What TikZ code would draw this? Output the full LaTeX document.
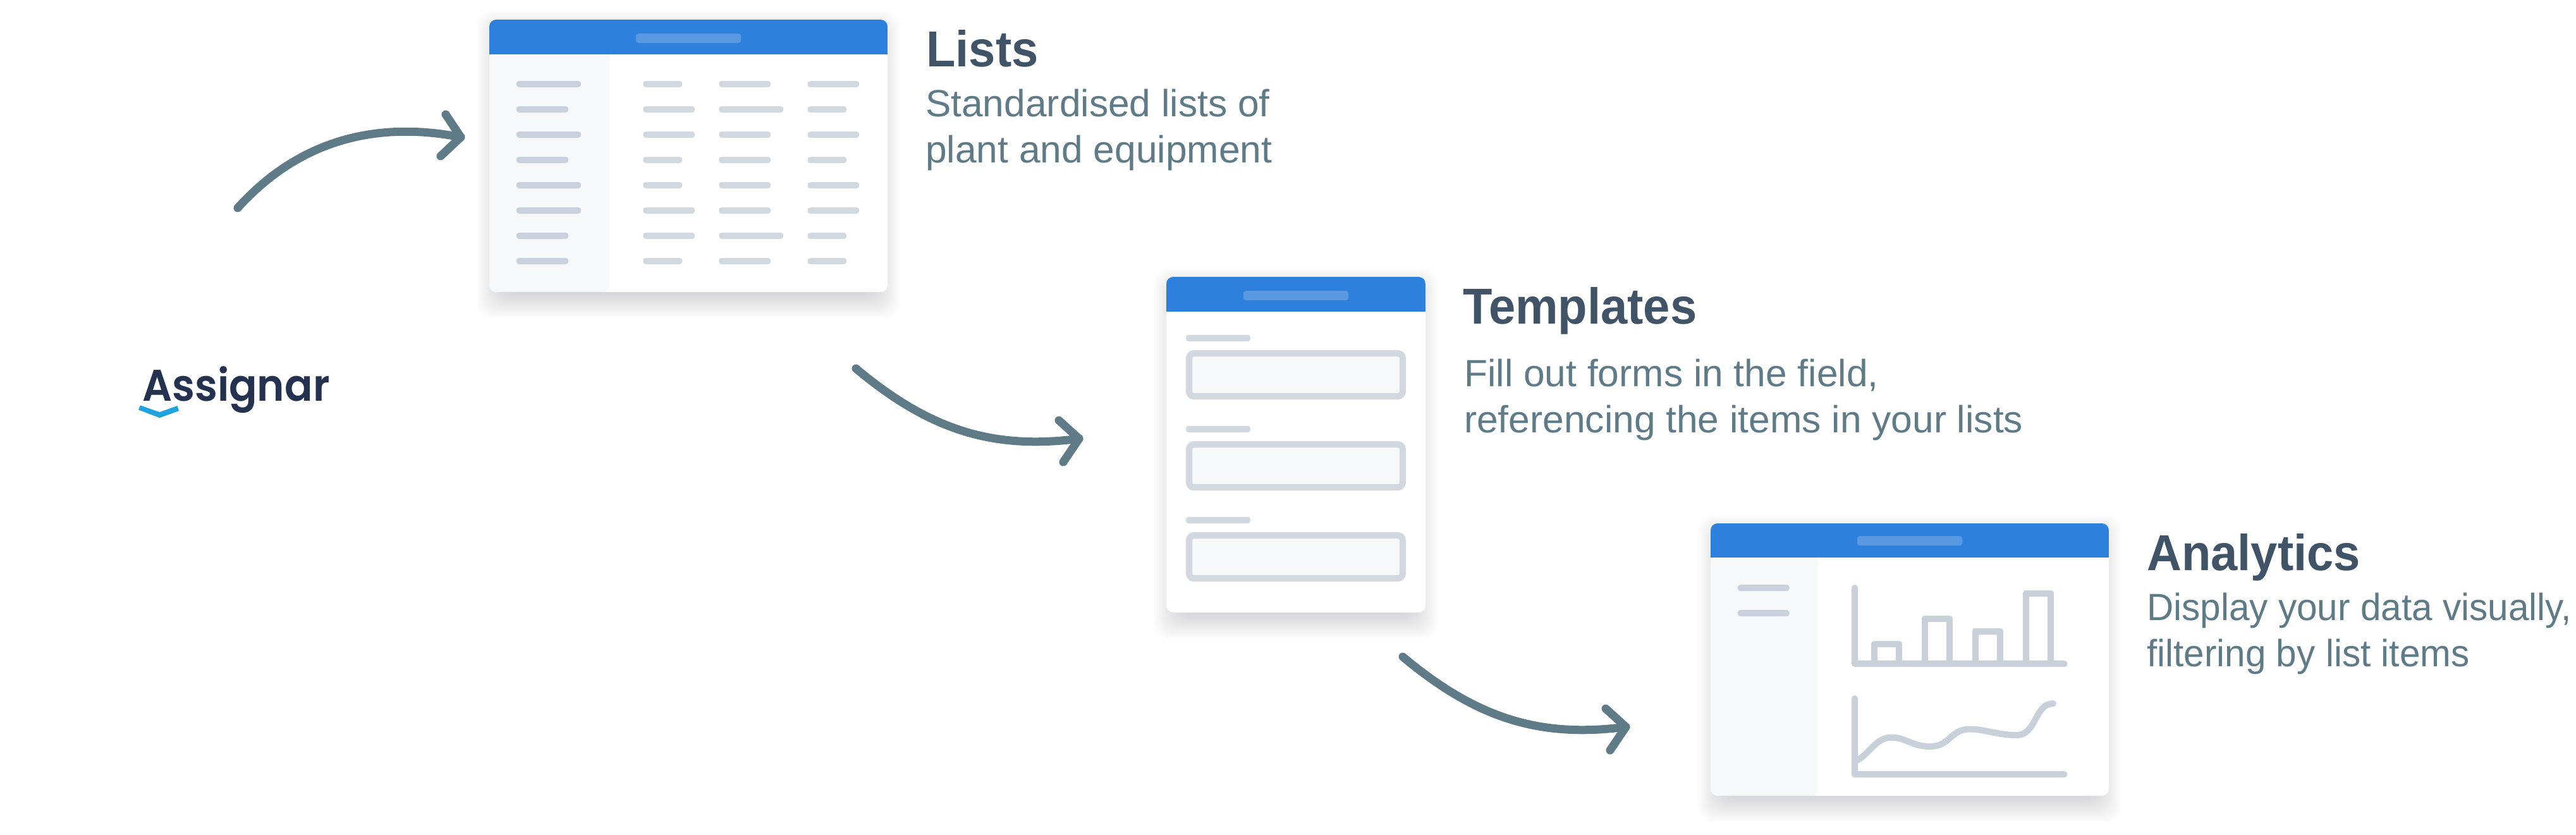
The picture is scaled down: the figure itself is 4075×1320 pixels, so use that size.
\documentclass[tikz,border=0pt]{standalone}
\usepackage{fontspec}
\setmainfont{Liberation Sans}
\newfontfamily\bodyfont{Liberation Sans}[FakeStretch=1.008]
\newfontfamily\bodynarrow{Liberation Sans}[FakeStretch=0.975]
\newfontfamily\headfont{Liberation Sans}[BoldFont=*,UprightFont=* Bold,FakeStretch=0.95]
\newfontfamily\logofont{Poppins}[UprightFont=* SemiBold,FakeStretch=0.94]
\definecolor{hdr}{HTML}{2D81DC}
\definecolor{hdrpill}{HTML}{5899E2}
\definecolor{side}{HTML}{F7F8FA}
\definecolor{barA}{HTML}{C9D1DC}
\definecolor{barB}{HTML}{D1D8E0}
\definecolor{chartc}{HTML}{C8D0DA}
\definecolor{arrowc}{HTML}{607B88}
\definecolor{headc}{HTML}{415367}
\definecolor{shadowc}{HTML}{5A7290}
\definecolor{logoc}{HTML}{25324F}
\definecolor{logob}{HTML}{1EA3E0}
\newcommand{\cardbase}[5]{% x1 y1 x2 y2 headerbottom
  \foreach \s in {-14,-12,...,34}{
    \fill[shadowc,fill opacity=0.011,rounded corners=24pt]
      ({#1+14-\s},{#2+20-\s}) rectangle ({#3-14+\s},{#4+8+\s});
  }
  \fill[white,rounded corners=11pt] (#1,#2) rectangle (#3,#4);
  \begin{scope}
    \clip[rounded corners=11pt] (#1,#2) rectangle (#3,#4);
    \fill[hdr] (#1,#2) rectangle (#3,#5);
  \end{scope}
}
\newcommand{\sidebar}[5]{% x1 top x2 bottom
  \begin{scope}
    \clip[rounded corners=11pt] (#1,#5) rectangle (#3,#4);
    \fill[side] (#1,#2) rectangle (#3,#4);
  \end{scope}
}
\newcommand{\pill}[5]{\fill[#1,rounded corners=4pt] (#2,#3) rectangle (#4,#5);}
\tikzset{
  x=1pt,y=-1pt,
  headtext/.style={anchor=base west,inner sep=0pt,text=headc,font=\headfont\fontsize{80}{90}\selectfont},
  bodytext/.style={anchor=base west,inner sep=0pt,text=arrowc,align=left,font=\bodyfont\fontsize{60}{73}\selectfont},
  arrowline/.style={draw=arrowc,line width=13pt,line cap=round,line join=round},
  chartline/.style={draw=chartc,line width=10pt,line cap=round,line join=round},
  barline/.style={draw=chartc,line width=10pt,line join=round},
  fieldbox/.style={draw=barB,fill=side,line width=10pt,rounded corners=8pt}
}
\begin{document}
\begin{tikzpicture}
\useasboundingbox (0,0) rectangle (4075,1320);
\fill[white] (0,0) rectangle (4075,1320);

% ---- card 1: Lists
\cardbase{774}{31}{1404}{462}{85.5}
\sidebar{774}{85.5}{964}{462}{31}
\pill{hdrpill}{1006}{53}{1172}{68}
\foreach \r/\a/\b/\c/\d in {0/919/1079/1219/1359,1/899/1099/1239/1339,2/919/1099/1219/1359,3/899/1079/1219/1339,4/919/1079/1219/1359,5/919/1099/1219/1359,6/899/1099/1239/1339,7/899/1079/1219/1339}{
  \pill{barA}{817}{128+40*\r}{\a}{138+40*\r}
  \pill{barB}{1017.5}{128+40*\r}{\b}{138+40*\r}
  \pill{barB}{1137.5}{128+40*\r}{\c}{138+40*\r}
  \pill{barB}{1277.5}{128+40*\r}{\d}{138+40*\r}
}

% ---- card 2: Templates
\cardbase{1845}{438}{2255}{969}{492.5}
\pill{hdrpill}{1967}{460}{2133}{475}
\foreach \q in {0,144,288}{
  \pill{barB}{1876}{530+\q}{1978}{540+\q}
  \draw[fieldbox] (1881,{559+\q}) rectangle (2219,{627+\q});
}

% ---- card 3: Analytics
\cardbase{2706}{828}{3336}{1259}{882}
\sidebar{2706}{882}{2875.5}{1259}{828}
\pill{hdrpill}{2938}{848}{3104}{863}
\pill{barA}{2749}{925}{2830.5}{935}
\pill{barA}{2749}{965}{2830.5}{975}
\foreach \xa/\xb/\yt in {2965/3003.5/1018.5,3045/3084/978.5,3124.5/3163.5/998.5,3204.5/3243.5/938.5}{
  \draw[barline] (\xa,1050) -- (\xa,\yt) -- (\xb,\yt) -- (\xb,1050);
}
\draw[chartline] (2934,930) -- (2934,1050) -- (3265.5,1050);
\draw[chartline] (2934,1105) -- (2934,1225) -- (3265.5,1225);
\draw[chartline] (2934,1204) .. controls (2955,1198) and (2965,1166.7) .. (2992,1166.7)
  .. controls (3015,1166.7) and (3025,1181) .. (3053,1181)
  .. controls (3085,1181) and (3085,1153.5) .. (3116,1153.5)
  .. controls (3140,1153.5) and (3160,1163) .. (3190,1163)
  .. controls (3222,1163) and (3218,1113) .. (3248,1113);

% ---- arrows
\coordinate (a1s) at (376,329);
\coordinate (a1t) at (729,217);
\coordinate (a1u) at (705,181);
\coordinate (a1d) at (697,247);
\draw[arrowline] (a1s) .. controls (470,225) and (590,190) .. (a1t);
\draw[arrowline] (a1u) -- (a1t) -- (a1d);

\coordinate (a2s) at (1354,583);
\coordinate (a2t) at (1707,694);
\coordinate (a2u) at (1675,665);
\coordinate (a2d) at (1682,731);
\draw[arrowline] (a2s) .. controls (1470,680) and (1570,712) .. (a2t);
\draw[arrowline] (a2u) -- (a2t) -- (a2d);

\coordinate (a3s) at (2219,1039);
\coordinate (a3t) at (2572,1150);
\coordinate (a3u) at (2540,1121);
\coordinate (a3d) at (2547,1187);
\draw[arrowline] (a3s) .. controls (2335,1136) and (2435,1168) .. (a3t);
\draw[arrowline] (a3u) -- (a3t) -- (a3d);

% ---- logo
\node[anchor=base west,inner sep=0pt,text=logoc,font=\logofont\fontsize{70}{80}\selectfont] (logo) at (225,634) {Assignar};
\fill[logob] (219,648.3) -- (222,641.3) -- (252.5,652) -- (280.5,642) -- (283,650) -- (252.5,661) -- cycle;

% ---- texts
\node[headtext] (h1) at (1465,105) {Lists};
\node[bodytext] (b1) at (1464,257) {Standardised lists of\\plant and equipment};
\node[headtext] (h2) at (2314,512) {Templates};
\node[bodytext] (b2) at (2316,684) {Fill out forms in the field,\\referencing the items in your lists};
\node[headtext] (h3) at (3396,902) {Analytics};
\node[bodytext,font=\bodynarrow\fontsize{60}{73}\selectfont] (b3) at (3396,1054) {Display your data visually,\\filtering by list items};
\end{tikzpicture}
\end{document}
